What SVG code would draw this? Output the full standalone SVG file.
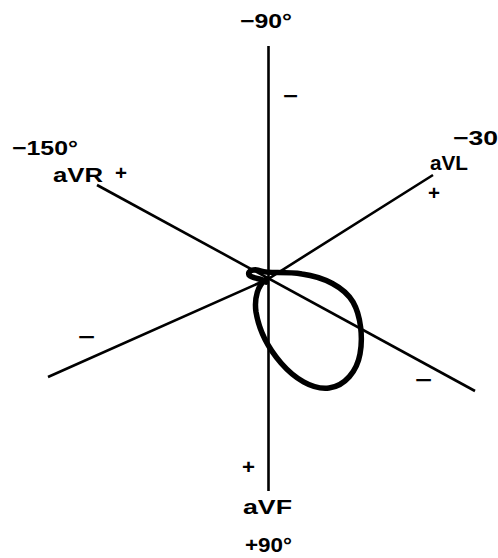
<svg xmlns="http://www.w3.org/2000/svg" width="498" height="558" viewBox="0 0 498 558">
<style>
.ax{stroke:#000;stroke-width:2.6;fill:none;stroke-linecap:butt}
.loop{stroke:#000;stroke-width:5.5;fill:none;stroke-linejoin:round;stroke-linecap:round}
text{font-family:"Liberation Sans",Arial,sans-serif;font-weight:bold;fill:#000}
.lb{font-size:20px}
.sg{font-size:21px}
</style>
<rect width="498" height="558" fill="#fff"/>
<g id="connectors">
<line id="axis-aVF" class="ax" x1="268.5" y1="46" x2="268.5" y2="491"/>
<line id="axis-aVR" class="ax" x1="97" y1="185" x2="475" y2="391"/>
<polyline id="axis-aVL" class="ax" points="48,377 268,279 433,175"/>
</g>
<g id="loop">
<path class="loop" d="M266,282 C261,278 253,279 249,275 C247,271 254,268 261,271 C268,274 285,271 302,274 C324,277 344,287 353,302 C361,316 363,338 360,354 C357,371 345,386 329,388 C312,390 294,378 281,363 C268,348 259,330 256,312 C254,298 258,285 266,279"/>
</g>
<g id="label-m90"><text class="lb" x="240" y="28" textLength="52" lengthAdjust="spacingAndGlyphs">−90°</text></g>
<g id="label-m150"><text class="lb" x="12" y="155" textLength="66" lengthAdjust="spacingAndGlyphs">−150°</text></g>
<g id="label-aVR">
<text class="lb" x="53" y="182" textLength="50" lengthAdjust="spacingAndGlyphs">aVR</text>
<text class="sg" x="115" y="180" textLength="12" lengthAdjust="spacingAndGlyphs">+</text>
</g>
<g id="label-m30"><text class="lb" x="453" y="145" textLength="45" lengthAdjust="spacingAndGlyphs">−30</text></g>
<g id="label-aVL">
<text class="lb" x="430" y="170" textLength="38" lengthAdjust="spacingAndGlyphs">aVL</text>
<text class="sg" x="428" y="200" textLength="12" lengthAdjust="spacingAndGlyphs">+</text>
</g>
<g id="label-aVF">
<text class="lb" x="243" y="514" textLength="49" lengthAdjust="spacingAndGlyphs" style="font-size:21px">aVF</text>
<text class="sg" x="242" y="474" textLength="13" lengthAdjust="spacingAndGlyphs">+</text>
</g>
<g id="label-p90"><text class="lb" x="245" y="552" textLength="47" lengthAdjust="spacingAndGlyphs">+90°</text></g>
<g id="signs">
<text class="sg" x="283" y="103" textLength="15" lengthAdjust="spacingAndGlyphs">−</text>
<text class="sg" x="78" y="344" textLength="17" lengthAdjust="spacingAndGlyphs">−</text>
<text class="sg" x="415" y="387" textLength="17" lengthAdjust="spacingAndGlyphs">−</text>
</g>
</svg>
